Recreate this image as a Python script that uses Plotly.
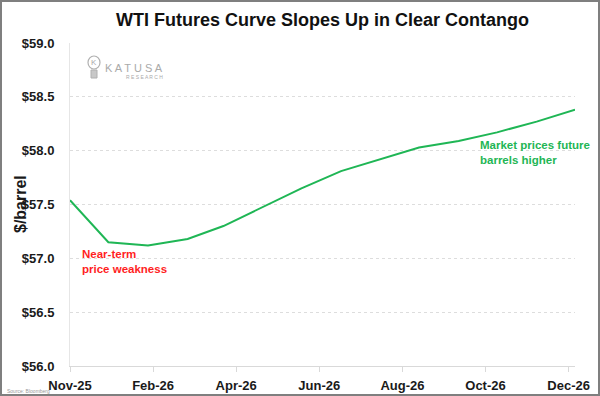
import plotly.graph_objects as go

# Data
dates = ["2025-11-28", "2025-12-28", "2026-01-28", "2026-02-28", "2026-03-28", "2026-04-28",
         "2026-05-28", "2026-06-28", "2026-07-28", "2026-08-28", "2026-09-28", "2026-10-28",
         "2026-11-28", "2026-12-28"]
prices = [57.54, 57.15, 57.12, 57.18, 57.30, 57.48, 57.65, 57.81, 57.92, 58.03, 58.09, 58.17, 58.27, 58.38]

title_text = "WTI Futures Curve Slopes Up in Clear Contango"
y_title = "$/barrel"
note_low = "Near-term<br>price weakness"
note_high = "Market prices future<br>barrels higher"
source_text = "Source: Bloomberg"

W, H = 600, 396
L, R, T, B = 70, 25, 43, 30
pw, ph = W - L - R, H - T - B

def px(x):
    return (x - L) / pw

def py(y):
    return 1 - (y - T) / ph

GREEN = "#1fb655"
RED = "#ff1f1f"
FONT = "Liberation Sans"

fig = go.Figure()
fig.add_trace(go.Scatter(x=dates, y=prices, mode="lines",
                         line=dict(color=GREEN, width=2), hoverinfo="skip"))

fig.update_layout(
    width=W, height=H,
    margin=dict(l=L, r=R, t=T, b=B, autoexpand=False),
    paper_bgcolor="white", plot_bgcolor="white",
    showlegend=False,
    font=dict(family=FONT, color="#1a1a1a"),
    title=dict(text="<b>" + title_text + "</b>", x=0.5, xanchor="center", xref="paper",
               y=1 - 20 / H, yanchor="middle", font=dict(size=18, family=FONT, color="#111")),
    xaxis=dict(type="date", range=["2025-11-28", "2026-12-28"], automargin=False,
               tick0="2025-11-28", dtick=65 * 86400000, tickformat="%b-%y",
               showgrid=False, showline=True, linecolor="#d9d9d9", linewidth=1,
               ticks="outside", ticklen=5, tickcolor="#d9d9d9",
               tickfont=dict(size=13, family=FONT, color="#1a1a1a", weight="bold"),
               ticklabelstandoff=2, zeroline=False),
    yaxis=dict(range=[56.0, 59.0], dtick=0.5, tickformat=".1f", tickprefix="$", automargin=False,
               showgrid=True, gridcolor="#dddddd", griddash="dot", gridwidth=1,
               showline=True, linecolor="#e6e6e6", linewidth=1, ticks="",
               tickfont=dict(size=13, family=FONT, color="#1a1a1a", weight="bold"),
               ticklabelstandoff=12, zeroline=False),
)

# Y axis title
fig.add_annotation(x=px(20), y=py(204), xref="paper", yref="paper", xanchor="center", yanchor="middle",
                   text="<b>" + y_title + "</b>", showarrow=False, textangle=-90,
                   font=dict(size=16, family=FONT, color="#1a1a1a"))

# Annotations
fig.add_annotation(x=px(80), y=py(246), xref="paper", yref="paper", xanchor="left", yanchor="top",
                   text="<b>" + note_low + "</b>", showarrow=False, align="left",
                   font=dict(size=11.5, family=FONT, color=RED))
fig.add_annotation(x=px(478), y=py(137), xref="paper", yref="paper", xanchor="left", yanchor="top",
                   text="<b>" + note_high + "</b>", showarrow=False, align="left",
                   font=dict(size=11.5, family=FONT, color=GREEN))
fig.add_annotation(x=px(5), y=py(391), xref="paper", yref="paper", xanchor="left", yanchor="middle",
                   text=source_text, showarrow=False, font=dict(size=5, family=FONT, color="#999"))

# Logo
fig.add_annotation(x=px(103), y=py(68), xref="paper", yref="paper", xanchor="left", yanchor="middle",
                   text="K A T U S A", showarrow=False, font=dict(size=11, family=FONT, color="#aaaaaa"))
fig.add_annotation(x=px(124), y=py(77), xref="paper", yref="paper", xanchor="left", yanchor="middle",
                   text="R E S E A R C H", showarrow=False, font=dict(size=5, family=FONT, color="#aaaaaa"))
fig.add_shape(type="circle", xref="paper", yref="paper", x0=px(88), x1=px(100), y0=py(56), y1=py(69),
              line=dict(color="#b0b0b0", width=1.2))
fig.add_shape(type="rect", xref="paper", yref="paper", x0=px(91), x1=px(97), y0=py(70), y1=py(78),
              line=dict(color="#b0b0b0", width=1), fillcolor="#c8c8c8")
fig.add_annotation(x=px(94), y=py(62.5), xref="paper", yref="paper", xanchor="center", yanchor="middle",
                   text="K", showarrow=False, font=dict(size=8, family=FONT, color="#aaaaaa"))

# Border
fig.add_shape(type="rect", xref="paper", yref="paper", x0=px(1), x1=px(599), y0=py(1), y1=py(395),
              line=dict(color="#7f7f7f", width=2), layer="above")

fig.write_html("out.html", config={"displayModeBar": False},
               post_script="document.body.style.margin='0';document.body.style.padding='0';")
